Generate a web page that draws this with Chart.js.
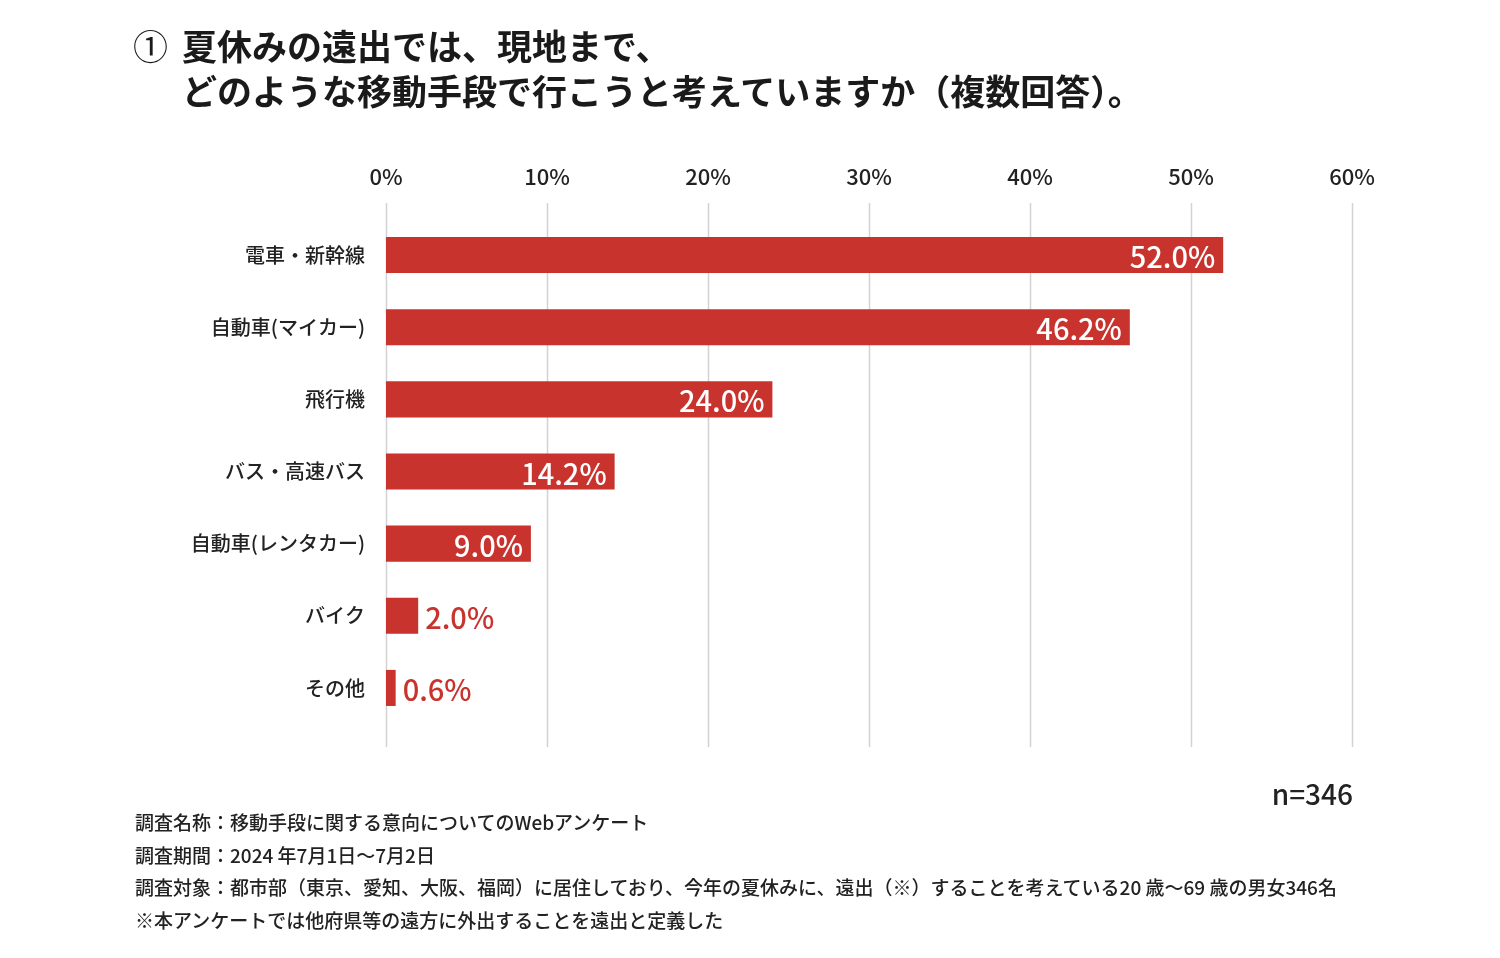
<!DOCTYPE html>
<html lang="ja">
<head>
<meta charset="utf-8">
<script src="https://cdn.jsdelivr.net/npm/chart.js@4"></script>
<style>
  body { margin: 0; background: #fff; font-family: "Noto Sans CJK JP", "Noto Sans", sans-serif; color: #222; }
  #wrap { position: relative; width: 1500px; height: 958px; }
  canvas { position: absolute; left: 0; top: 0; }
  .title { position: absolute; font-size: 35px; font-weight: 700; line-height: 45px; color: #1a1a1a; white-space: nowrap; }
  .note { position: absolute; left: 135px; top: 806px; font-size: 19px; font-weight: 500; line-height: 32.6px; white-space: nowrap; }
  .n { position: absolute; right: 147px; top: 773px; font-size: 28px; font-weight: 500; line-height: 40px; }
</style>
</head>
<body>
<div id="wrap">
  <canvas id="chart" width="1500" height="958"></canvas>
  <div class="title" style="left:133px; top:22px; font-weight:400;">①</div>
  <div class="title" style="left:182px; top:22px;">夏休みの遠出では、現地まで、<br>どのような移動手段で行こうと考えていますか（複数回答）。</div>
  <div class="n">n=346</div>
  <div class="note">
    調査名称：移動手段に関する意向についてのWebアンケート<br>
    調査期間：2024 年7月1日〜7月2日<br>
    調査対象：都市部（東京、愛知、大阪、福岡）に居住しており、今年の夏休みに、遠出（※）することを考えている20 歳〜69 歳の男女346名<br>
    ※本アンケートでは他府県等の遠方に外出することを遠出と定義した
  </div>
</div>
<script>
const labels = ["電車・新幹線", "自動車(マイカー)", "飛行機", "バス・高速バス", "自動車(レンタカー)", "バイク", "その他"];
const values = [52.0, 46.2, 24.0, 14.2, 9.0, 2.0, 0.6];
const axisMin = 0;
const axisMax = 60;
const axisStep = 10;

const FONT = '"Noto Sans CJK JP", "Noto Sans", sans-serif';
const RED = "#c8332e";

// vertical grid lines, a bit longer than the plot area
const gridLines = {
  id: "gridLines",
  beforeDatasetsDraw(chart) {
    const x = chart.scales.x;
    const { top, bottom } = chart.chartArea;
    const ctx = chart.ctx;
    ctx.save();
    ctx.strokeStyle = "#d2d2d2";
    ctx.lineWidth = 1.5;
    x.ticks.forEach(t => {
      const px = Math.round(x.getPixelForValue(t.value)) + 0.5;
      ctx.beginPath();
      ctx.moveTo(px, top - 16);
      ctx.lineTo(px, bottom + 23);
      ctx.stroke();
    });
    ctx.restore();
  }
};

// value labels: inside (white) for long bars, outside (red) for short ones
const valueLabels = {
  id: "valueLabels",
  afterDatasetsDraw(chart) {
    const ctx = chart.ctx;
    const meta = chart.getDatasetMeta(0);
    ctx.save();
    ctx.font = "500 29px " + FONT;
    ctx.textBaseline = "middle";
    meta.data.forEach((bar, i) => {
      const txt = values[i].toFixed(1) + "%";
      if (values[i] >= 5) {
        ctx.fillStyle = "#fff";
        ctx.textAlign = "right";
        ctx.fillText(txt, bar.x - 8, bar.y + 2);
      } else {
        ctx.fillStyle = RED;
        ctx.textAlign = "left";
        ctx.fillText(txt, bar.x + 7, bar.y + 2);
      }
    });
    ctx.restore();
  }
};

new Chart(document.getElementById("chart"), {
  type: "bar",
  data: {
    labels: labels,
    datasets: [{
      data: values,
      backgroundColor: RED,
      barPercentage: 0.5,
      categoryPercentage: 1.0
    }]
  },
  options: {
    indexAxis: "y",
    responsive: false,
    animation: false,
    layout: { padding: { left: 186, right: 148, top: 150, bottom: 234 } },
    scales: {
      x: {
        position: "top",
        min: axisMin,
        max: axisMax,
        grid: { display: false },
        border: { display: false },
        afterFit(s) { s.height = 69; },
        ticks: {
          stepSize: axisStep,
          padding: 21,
          color: "#222",
          font: { family: FONT, size: 22, weight: "500" },
          callback: v => v + "%"
        }
      },
      y: {
        grid: { display: false },
        border: { display: false },
        afterFit(s) { s.width = 200; },
        ticks: {
          padding: 13,
          color: "#222",
          font: { family: FONT, size: 20, weight: "500" }
        }
      }
    },
    plugins: {
      legend: { display: false },
      tooltip: { enabled: false }
    }
  },
  plugins: [gridLines, valueLabels]
});
</script>
</body>
</html>
